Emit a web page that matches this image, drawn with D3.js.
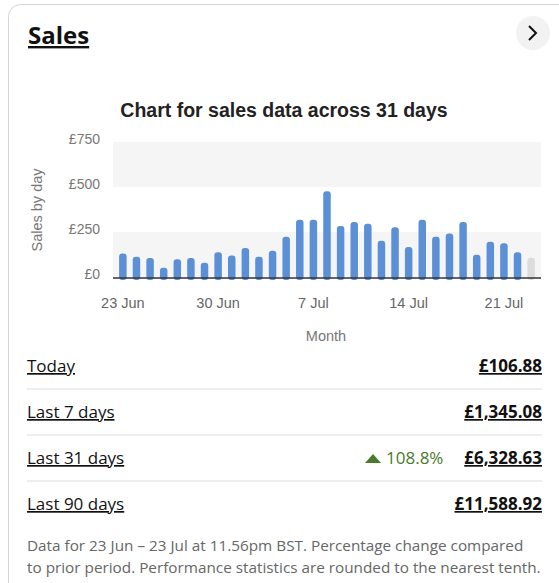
<!DOCTYPE html>
<html><head><meta charset="utf-8">
<script src="https://cdn.jsdelivr.net/npm/d3@7"></script>
<style>
body{margin:0;background:#fff;font-family:"Open Sans",Arial,sans-serif;}
</style></head>
<body>
<svg id="c" width="559" height="583"></svg>
<script>
// daily sales, 23 Jun .. 23 Jul
const days = d3.range(31).map((i) => new Date(2024, 5, 23 + i));
const sales = [130, 113, 106, 51, 99, 106, 79, 137, 119, 161, 113, 146, 223, 318, 318, 476,
  283, 305, 296, 201, 276, 166, 318, 223, 241, 305, 124, 196, 188, 137, 107];
const yTicks = [0, 250, 500, 750];
const tickDays = [0, 7, 14, 21, 28];
const rows = [
  {label: 'Today', value: '£106.88'},
  {label: 'Last 7 days', value: '£1,345.08'},
  {label: 'Last 31 days', value: '£6,328.63', change: '108.8%'},
  {label: 'Last 90 days', value: '£11,588.92'},
];

const svg = d3.select('#c');
svg.append('rect').attr('x', 8.5).attr('y', 4.5).attr('width', 600).attr('height', 620)
    .attr('rx', 12).attr('fill', '#fff').attr('stroke', '#d6d6d6');

svg.append('text').attr('x', 28).attr('y', 44).text('Sales')
    .attr('font-size', 24).attr('font-weight', 700).attr('fill', '#111')
    .attr('text-decoration', 'underline');
svg.append('circle').attr('cx', 533).attr('cy', 33).attr('r', 17).attr('fill', '#f2f2f2');
svg.append('path').attr('d', 'M529,26 L536,33 L529,40').attr('fill', 'none')
    .attr('stroke', '#111').attr('stroke-width', 2);

svg.append('text').attr('x', 284).attr('y', 117).attr('text-anchor', 'middle')
    .attr('font-size', 19.5).attr('font-weight', 700).attr('fill', '#222')
    .attr('font-family', 'Arial, "Liberation Sans", sans-serif')
    .text('Chart for sales data across 31 days');

const x = d3.scaleBand().domain(d3.range(31)).range([113, 541]).padding(0.45);
const y = d3.scaleLinear().domain([0, 750]).range([277, 142]);

const plot = svg.append('g').attr('font-family', 'Arial, "Liberation Sans", sans-serif');
[[500, 750], [0, 250]].forEach(([a, b]) => {
  plot.append('rect').attr('x', 113).attr('width', 428)
      .attr('y', y(b)).attr('height', y(a) - y(b)).attr('fill', '#f5f5f5');
});

plot.selectAll('rect.bar').data(sales).join('rect').attr('class', 'bar')
    .attr('x', (d, i) => x(i)).attr('width', x.bandwidth())
    .attr('y', (d) => y(d)).attr('height', (d) => y(0) - y(d) + 3)
    .attr('rx', 3)
    .attr('fill', (d, i) => i === sales.length - 1 ? '#dcdcdc' : '#5b8fd6');
plot.append('line').attr('x1', 113).attr('x2', 541).attr('y1', y(0) + 1).attr('y2', y(0) + 1)
    .attr('stroke', '#333').attr('stroke-width', 1.5);

const yAxis = plot.append('g').attr('transform', 'translate(103,0)')
    .call(d3.axisLeft(y).tickValues(yTicks).tickSize(0).tickFormat((d) => '£' + d));
yAxis.select('.domain').remove();
yAxis.selectAll('text').attr('font-size', 14).attr('fill', '#777').attr('dy', '0.1em');

const fmt = d3.timeFormat('%-d %b');
const xAxis = plot.append('g').attr('transform', `translate(0,${y(0) + 18})`)
    .call(d3.axisBottom(x).tickValues(tickDays).tickSize(0).tickFormat((i) => fmt(days[i])));
xAxis.select('.domain').remove();
xAxis.selectAll('text').attr('font-size', 14.5).attr('fill', '#666');

plot.append('text').attr('x', 326).attr('y', 341).attr('text-anchor', 'middle')
    .attr('font-size', 14.5).attr('fill', '#777').text('Month');
plot.append('text').attr('transform', 'translate(42,210) rotate(-90)')
    .attr('text-anchor', 'middle').attr('font-size', 14.5).attr('fill', '#777').text('Sales by day');

const rowG = svg.selectAll('g.row').data(rows).join('g').attr('class', 'row')
    .attr('transform', (d, i) => `translate(0,${372 + i * 46})`);
rowG.append('text').attr('x', 27).text((d) => d.label).attr('font-size', 17)
    .attr('fill', '#111').attr('text-decoration', 'underline');
rowG.append('text').attr('x', 542).attr('text-anchor', 'end').text((d) => d.value)
    .attr('font-size', 17).attr('font-weight', 700).attr('fill', '#111')
    .attr('text-decoration', 'underline');
rowG.filter((d, i) => i < rows.length - 1).append('line')
    .attr('x1', 27).attr('x2', 542).attr('y1', 17).attr('y2', 17).attr('stroke', '#ddd');
const ch = rowG.filter((d) => d.change);
ch.append('path').attr('d', 'M365,-1 L373,-10 L381,-1 Z').attr('fill', '#4a7a2b');
ch.append('text').attr('x', 386).text((d) => d.change).attr('font-size', 17).attr('fill', '#4a7a2b');

const foot = ['Data for 23 Jun – 23 Jul at 11.56pm BST. Percentage change compared',
  'to prior period. Performance statistics are rounded to the nearest tenth.'];
svg.selectAll('text.foot').data(foot).join('text').attr('class', 'foot')
    .attr('x', 27).attr('y', (d, i) => 551 + i * 22).text((d) => d)
    .attr('font-size', 15.3).attr('fill', '#666');
</script>
</body></html>
